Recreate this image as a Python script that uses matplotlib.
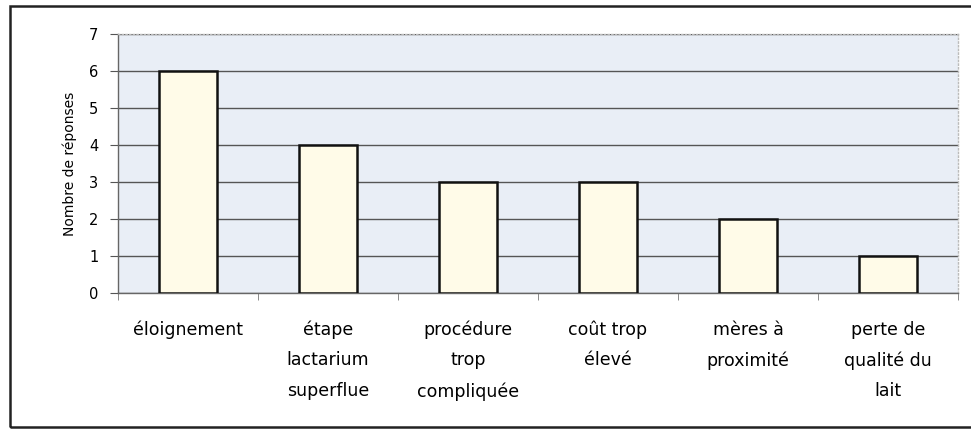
import matplotlib
matplotlib.use("Agg")
import matplotlib.pyplot as plt
from matplotlib.patches import Rectangle
import numpy as np

categories = ["éloignement", "étape\nlactarium\nsuperflue", "procédure\ntrop\ncompliquée",
              "coût trop\nélevé", "mères à\nproximité", "perte de\nqualité du\nlait"]
reponses = [6, 4, 3, 3, 2, 1]

plt.rcParams['font.family'] = ['DejaVu Sans']

fig = plt.figure(figsize=(9.71, 4.29), dpi=100)
ax = fig.add_axes([118 / 971, 1 - 293 / 429, 840 / 971, 259 / 429])

ax.set_facecolor("#e9eef6")
x = np.arange(len(categories))
ax.bar(x, reponses, width=0.41, color="#fffbe8", edgecolor="#111111", linewidth=1.8, zorder=3)

ax.set_xlim(-0.5, len(categories) - 0.5)
ax.set_ylim(0, 7)
ax.set_yticks(range(0, 8))
ax.yaxis.grid(True, color="#555555", linewidth=1.0, zorder=1)
ax.set_axisbelow(True)

ax.set_xticks(x)
ax.set_xticklabels(categories, fontsize=12.5, linespacing=1.87)
ax.tick_params(axis="x", length=0, pad=20)
ax.set_xticks(np.arange(-0.5, len(categories)), minor=True)
ax.tick_params(axis="x", which="minor", length=5, color="#777777", direction="out")
ax.tick_params(axis="y", length=6, color="#555555", labelsize=10.5, pad=8)
ax.set_ylabel("Nombre de réponses", fontsize=10, labelpad=9)

for side in ["left", "bottom"]:
    ax.spines[side].set_color("#666666")
    ax.spines[side].set_linewidth(1.0)
for side in ["top", "right"]:
    ax.spines[side].set_color("#bbbbbb")
    ax.spines[side].set_linestyle(":")
    ax.spines[side].set_linewidth(1.0)

# outer chart frame
fig.patches.append(Rectangle((10 / 971, 2 / 429), 1.2, 421 / 429, transform=fig.transFigure,
                             fill=False, edgecolor="#222222", linewidth=1.8))

fig.savefig("out.png", dpi=100)
